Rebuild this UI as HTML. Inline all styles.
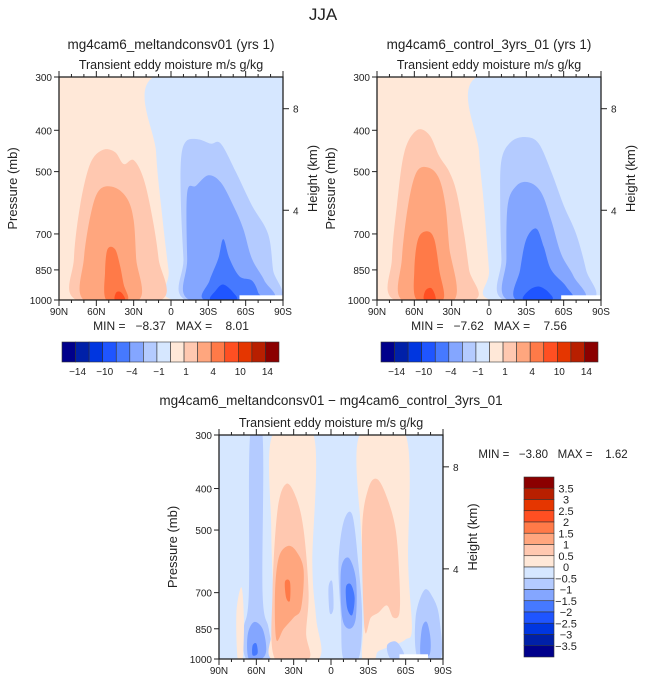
<!DOCTYPE html>
<html><head><meta charset="utf-8"><style>
body{margin:0;background:#fff;}
svg{display:block;font-family:"Liberation Sans",sans-serif;}
text{fill:#222;white-space:pre;}
</style></head><body>
<svg id="s" width="647" height="684" viewBox="0 0 647 684">
<text x="323" y="20" font-size="17" text-anchor="middle">JJA</text>
</svg>
<script>
const NS="http://www.w3.org/2000/svg";
const svg=document.getElementById('s');
const COLORS=["#00008b","#0020a8","#0036e0","#1f55ff","#4679ff","#84a6ff","#b4cbff","#d6e7ff","#ffe8d8","#ffc8b0","#ffa67e","#ff7a48","#ff4f22","#e53600","#b81f00","#8b0000"];
const latTicks=[90,60,30,0,-30,-60,-90];
const latLabels=["90N","60N","30N","0","30S","60S","90S"];
const pTicks=[300,400,500,700,850,1000];
const hPos=[[8,356],[4,616]];
const topLabels=["-14","-10","-4","-1","1","4","10","14"];
const diffLabels=["3.5","3","2.5","2","1.5","1","0.5","0","\u22120.5","\u22121","\u22121.5","\u22122","\u22122.5","\u22123","\u22123.5"];

const melt=[
 [7,[[14,300],[-90,300],[-90,1000],[-2,1000],[2,850],[8,600],[12,450]]],
 [9,[[76,1000],[78,800],[73,600],[65,480],[55,445],[45,450],[38,480],[30,470],[22,520],[15,640],[10,800],[8,1000]]],
 [10,[[70,1000],[70,800],[64,620],[57,550],[45,545],[35,580],[30,650],[28,800],[26,1000]]],
 [11,[[52,1000],[53,860],[51,760],[45,760],[41,830],[38,920],[35,1000]]],
 [12,[[45,1000],[44,960],[40,960],[37,1000]]],
 [6,[[-12,1000],[-10,800],[-8,600],[-8,470],[-12,425],[-22,420],[-32,430],[-40,430],[-52,500],[-65,600],[-78,700],[-82,850],[-85,1000]]],
 [5,[[-15,1000],[-13,800],[-13,560],[-20,540],[-30,510],[-40,530],[-50,600],[-58,680],[-65,800],[-75,900],[-80,1000]]],
 [4,[[-27,1000],[-31,900],[-38,800],[-42,720],[-47,800],[-55,880],[-65,900],[-70,960],[-70,1000]]],
 [3,[[-32,1000],[-36,950],[-42,920],[-50,960],[-52,1000]]]
];
const ctrl=[
 [7,[[10,300],[-90,300],[-90,1000],[-2,1000],[0,850],[4,600],[8,450]]],
 [9,[[76,1000],[78,800],[74,600],[68,450],[58,400],[48,410],[40,460],[32,500],[26,560],[20,700],[16,850],[12,1000]]],
 [10,[[70,1000],[70,800],[65,600],[58,500],[48,490],[40,520],[35,600],[32,750],[28,1000]]],
 [11,[[58,1000],[60,850],[57,720],[50,690],[44,720],[40,850],[37,1000]]],
 [12,[[52,1000],[51,950],[46,940],[43,1000]]],
 [6,[[-12,1000],[-10,800],[-9,600],[-10,470],[-18,425],[-30,415],[-40,430],[-50,500],[-60,600],[-70,700],[-78,850],[-82,1000]]],
 [5,[[-15,1000],[-14,800],[-15,600],[-22,540],[-32,530],[-42,560],[-50,650],[-58,780],[-68,880],[-75,1000]]],
 [4,[[-22,1000],[-25,850],[-30,720],[-38,680],[-44,750],[-50,850],[-62,930],[-65,1000]]],
 [3,[[-28,1000],[-32,950],[-40,930],[-48,960],[-50,1000]]]
];
const diff=[
 [6,[[65,300],[55,300],[55,700],[50,850],[48,1000],[68,1000],[70,850],[66,700]]],
 [5,[[66,1000],[67,880],[62,820],[55,850],[52,950],[56,1000]]],
 [4,[[63,980],[63,930],[60,920],[59,970]]],
 [8,[[47,300],[14,300],[15,600],[12,800],[10,1000],[48,1000],[46,800],[48,500]]],
 [9,[[45,1000],[47,700],[43,450],[36,390],[28,420],[22,500],[18,700],[20,870],[18,1000]]],
 [10,[[44,900],[45,700],[42,580],[35,545],[28,560],[22,620],[24,760],[30,800],[38,850]]],
 [11,[[36,720],[37,660],[33,660],[33,730]]],
 [8,[[75,1000],[76,780],[72,680],[70,800],[71,1000]]],
 [6,[[-10,1000],[-8,800],[-6,600],[-10,480],[-17,460],[-22,600],[-25,800],[-22,1000]]],
 [5,[[-9,800],[-8,620],[-14,580],[-20,650],[-20,800],[-15,850]]],
 [4,[[-13,760],[-12,680],[-16,670],[-19,720],[-17,790]]],
 [6,[[1,780],[2,680],[-1,660],[-2,760]]],
 [8,[[-23,300],[-60,300],[-62,600],[-65,850],[-60,900],[-50,930],[-38,960],[-35,1000],[-25,1000],[-28,700],[-24,500]]],
 [9,[[-27,850],[-25,500],[-30,400],[-37,380],[-45,420],[-52,500],[-55,650],[-55,780],[-50,800],[-45,750],[-38,780],[-32,800]]],
 [6,[[-70,1000],[-68,800],[-75,690],[-82,720],[-87,800],[-88,1000]]],
 [5,[[-72,980],[-73,850],[-77,820],[-80,900],[-79,980]]],
 [6,[[-48,1000],[-45,930],[-52,910],[-58,960],[-58,1000]]]
];

function el(t,a,p){const e=document.createElementNS(NS,t);for(const k in a)e.setAttribute(k,a[k]);(p||svg).appendChild(e);return e;}
function txt(x,y,s,fs,anc,extra){const e=el('text',Object.assign({x:x,y:y,'font-size':fs,'text-anchor':anc||'middle'},extra||{}));e.textContent=s;return e;}

function panel(id,x0,y0,w,h,bg,regions,whiteFrom,title,titleX,titleY){
  const g=el('g',{});
  
  
  const X=lat=>x0+(90-lat)/180*w;
  const Y=p=>y0+Math.log(p/300)/Math.log(1000/300)*h;
  const cid='clip-'+id;
  const cp=el('clipPath',{id:cid},g);el('rect',{x:x0,y:y0,width:w,height:h},cp);
  const inner=el('g',{'clip-path':'url(#'+cid+')'},g);
  el('rect',{x:x0,y:y0,width:w,height:h,fill:COLORS[bg]},inner);
  regions.forEach((r,i)=>{
    const pts=r[1].map(q=>[X(q[0]),Y(q[1])]);
    const n=pts.length;let d='M'+pts[0][0]+','+pts[0][1];
    for(let k=0;k<n;k++){const p0=pts[(k-1+n)%n],p1=pts[k],p2=pts[(k+1)%n],p3=pts[(k+2)%n];
      d+=' C'+(p1[0]+(p2[0]-p0[0])/6)+','+(p1[1]+(p2[1]-p0[1])/6)+' '+(p2[0]-(p3[0]-p1[0])/6)+','+(p2[1]-(p3[1]-p1[1])/6)+' '+p2[0]+','+p2[1];}
    const e=el('path',{d:d,fill:COLORS[r[0]]},inner);
    
    
  });
  el('rect',{x:X(whiteFrom[0]),y:Y(975),width:X(whiteFrom[1])-X(whiteFrom[0]),height:Y(1000)-Y(975)+1,fill:'#fff'},inner);
  el('rect',{x:x0,y:y0,width:w,height:h,fill:'none',stroke:'#222','stroke-width':1.3},g);
  for(let lat=-90;lat<=90;lat+=10){const x=X(lat);const maj=lat%30===0;
    el('line',{x1:x,x2:x,y1:y0,y2:y0-(maj?6:3),stroke:'#222'},g);
    el('line',{x1:x,x2:x,y1:y0+h,y2:y0+h+(maj?6:3),stroke:'#222'},g);}
  latTicks.forEach((l,i)=>{const t=txt(X(l),y0+h+15,latLabels[i],10,'middle',{},g);});
  pTicks.forEach(p=>{el('line',{x1:x0,x2:x0-5,y1:Y(p),y2:Y(p),stroke:'#222'},g);
    const t=txt(x0-7,Y(p)+4,String(p),10,'end');});
  hPos.forEach(hp=>{el('line',{x1:x0+w,x2:x0+w+6,y1:Y(hp[1]),y2:Y(hp[1]),stroke:'#222'},g);
    txt(x0+w+10,Y(hp[1])+4,String(hp[0]),10,'start');});
  const yl=txt(0,0,'Pressure (mb)',13,'middle',{transform:'translate('+(x0-42)+','+(y0+h/2)+') rotate(-90)'});
  
  const hl=txt(0,0,'Height (km)',13,'middle',{transform:'translate('+(x0+w+34)+','+(y0+h/2-10)+') rotate(-90)'});
  
  const tt=txt(titleX,titleY,title,13.5);
  const st=txt(x0+w/2,y0-8,'Transient eddy moisture m/s g/kg',12.5);
}
panel('panel-meltandconsv',59,77,224,223,8,melt,[-55,-90],'mg4cam6_meltandconsv01 (yrs 1)',171,49);
panel('panel-control',377,77,224,223,8,ctrl,[-58,-90],'mg4cam6_control_3yrs_01 (yrs 1)',489,49);
panel('panel-difference',219,435,224,224,7,diff,[-55,-78],'mg4cam6_meltandconsv01 \u2212 mg4cam6_control_3yrs_01',331,405);

txt(171,330,'MIN =   \u22128.37   MAX =    8.01',12,'middle');
txt(489,330,'MIN =   \u22127.62   MAX =    7.56',12,'middle');
txt(553,458,'MIN =   \u22123.80   MAX =    1.62',11.5,'middle');

function hbar(x0){const w=217/16;
  for(let i=0;i<16;i++){const r=el('rect',{x:x0+i*w,y:342,width:w,height:20,fill:COLORS[i],stroke:'#333','stroke-width':0.6});
    }
  topLabels.forEach((l,i)=>{const t=txt(x0+(2*i+1)*w+2,375,l.replace('-','\u2212'),10);});}
hbar(62);hbar(381);
const bh=180/16;
for(let i=0;i<16;i++){const r=el('rect',{x:524,y:477+i*bh,width:30,height:bh,fill:COLORS[15-i],stroke:'#333','stroke-width':0.6});
  }
diffLabels.forEach((l,i)=>{const t=txt(566,477+(i+1)*bh+4,l,11);});
</script>
</body></html>
